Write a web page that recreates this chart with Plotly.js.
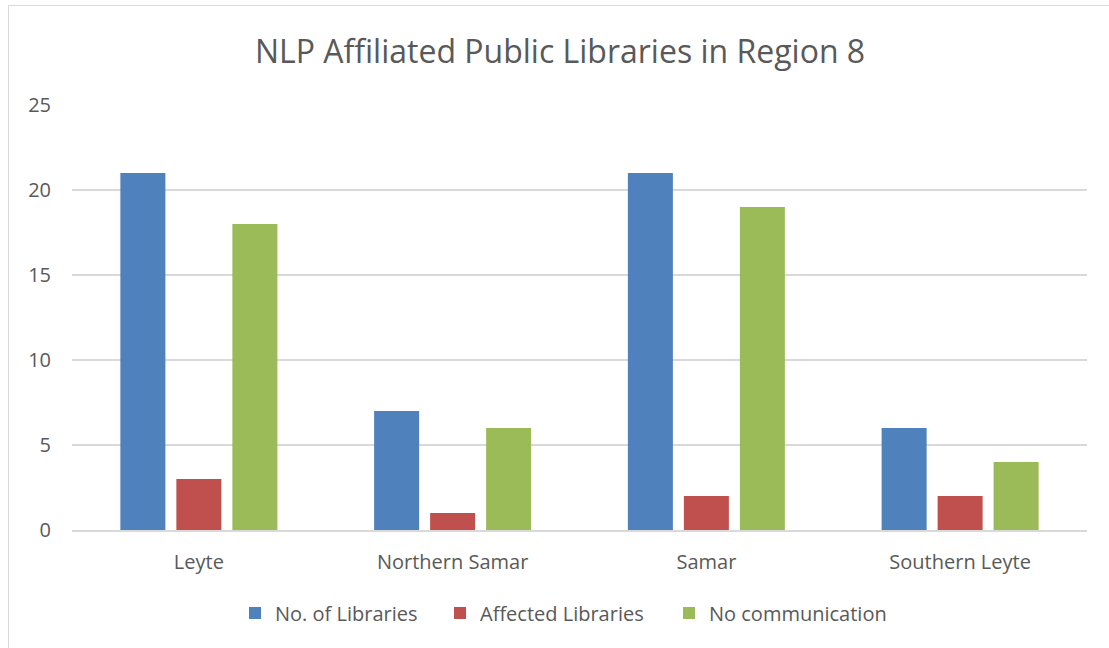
<!DOCTYPE html>
<html><head><meta charset="utf-8">
<script src="https://cdn.plot.ly/plotly-3.0.1.min.js"></script>
<style>
html,body{margin:0;padding:0;background:#fff;overflow:hidden}
#chart{width:1109px;height:648px;position:absolute;left:0;top:0}
#frame{position:absolute;left:8px;top:5px;width:1200px;height:700px;border:1.5px solid #d9d9d9;pointer-events:none}
</style></head>
<body>
<div id="chart"></div>
<div id="frame"></div>
<script>
const categories = ["Leyte", "Northern Samar", "Samar", "Southern Leyte"];
const seriesNames = ["No. of Libraries", "Affected Libraries", "No communication"];
const noOfLibraries = [21, 7, 21, 6];
const affectedLibraries = [3, 1, 2, 2];
const noCommunication = [18, 6, 19, 4];
const yTicks = [0, 5, 10, 15, 20, 25];
const colors = ["#4F81BD", "#C0504D", "#9BBB59"];
const legendWidths = [160, 184, 176];
const values = [noOfLibraries, affectedLibraries, noCommunication];

const font = "Open Sans, Liberation Sans, sans-serif";
const traces = values.map((v, i) => ({
  type: "bar", x: categories, y: v, name: seriesNames[i],
  marker: {color: colors[i]}, hoverinfo: "none", legendwidth: legendWidths[i]
}));

const layout = {
  width: 1109, height: 648,
  margin: {l: 72, r: 22, t: 105, b: 118},
  paper_bgcolor: "rgba(0,0,0,0)", plot_bgcolor: "#fff",
  barmode: "group", bargap: 0.338, bargroupgap: 0.196,
  title: {text: "NLP Affiliated Public Libraries in Region 8", x: 0.505, xanchor: "center",
          y: 0.92, yanchor: "middle", yref: "container",
          font: {family: font, size: 32, color: "#595959"}},
  xaxis: {showgrid: false, showline: true, linecolor: "#d9d9d9", linewidth: 1.5,
          ticks: "", ticklabelstandoff: 13,
          tickfont: {family: font, size: 20, color: "#595959"}},
  yaxis: {range: [0, 25], tickvals: yTicks, showgrid: true, gridcolor: "#d9d9d9", gridwidth: 1.5,
          zeroline: false, showline: false, ticks: "", ticklabelstandoff: 20,
          tickfont: {family: font, size: 20, color: "#595959"}},
  legend: {orientation: "h", x: 0.1606, xanchor: "left", y: -0.195, yanchor: "middle",
           font: {family: font, size: 20, color: "#595959"}, itemwidth: 30, tracegroupgap: 0},
  showlegend: true
};
Plotly.newPlot("chart", traces, layout, {displayModeBar: false, staticPlot: true});
</script>
</body></html>
